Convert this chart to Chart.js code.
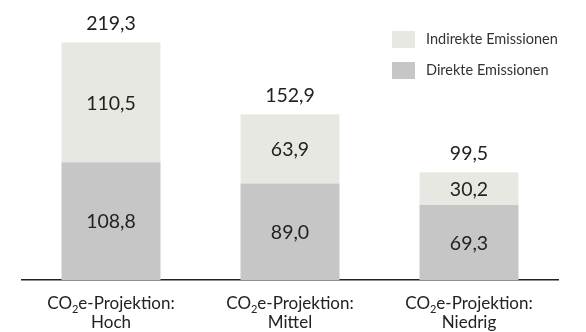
<!DOCTYPE html>
<html>
<head>
<meta charset="utf-8">
<script src="https://cdn.jsdelivr.net/npm/chart.js@4/dist/chart.umd.min.js"></script>
<style>
  html, body { margin: 0; padding: 0; background: #fff; }
  #wrap { width: 586px; height: 332px; position: relative; }
</style>
</head>
<body>
<div id="wrap"><canvas id="chart" width="586" height="332"></canvas></div>
<script>
// Category labels (two lines each; "₂" is rendered as a subscript)
const categoryLines = [
  ['CO₂e-Projektion:', 'Hoch'],
  ['CO₂e-Projektion:', 'Mittel'],
  ['CO₂e-Projektion:', 'Niedrig']
];
const categories = ['Hoch', 'Mittel', 'Niedrig'];

// Emissions per projection
const direct   = [108.8, 89.0, 69.3];
const indirect = [110.5, 63.9, 30.2];

const seriesNames = ['Direkte Emissionen', 'Indirekte Emissionen'];
const seriesColors = ['#c6c6c6', '#e8e8e3'];

const FONT = 'Lato, "Open Sans", sans-serif';
const TEXT = '#222222';

const fmt = v => v.toFixed(1).replace('.', ',');

// Draws value labels inside segments, totals above stacks, legend and category labels
const annotations = {
  id: 'annotations',
  afterDatasetsDraw(chart) {
    const ctx = chart.ctx;
    const xScale = chart.scales.x;
    ctx.save();
    ctx.fillStyle = TEXT;
    ctx.textAlign = 'center';
    ctx.textBaseline = 'middle';
    ctx.font = '19.5px ' + FONT;

    // segment values
    chart.data.datasets.forEach((ds, di) => {
      const meta = chart.getDatasetMeta(di);
      meta.data.forEach((el, i) => {
        const mid = (el.y + el.base) / 2;
        ctx.fillText(fmt(ds.data[i]), el.x, mid + 1);
      });
    });

    // totals
    const topMeta = chart.getDatasetMeta(chart.data.datasets.length - 1);
    topMeta.data.forEach((el, i) => {
      const total = direct[i] + indirect[i];
      ctx.textBaseline = 'alphabetic';
      ctx.fillText(fmt(total), el.x, el.y - 12);
    });

    // legend (indirect on top, direct below)
    const legendItems = [
      { name: seriesNames[1], color: seriesColors[1] },
      { name: seriesNames[0], color: seriesColors[0] }
    ];
    ctx.textAlign = 'left';
    ctx.textBaseline = 'middle';
    ctx.font = '14.5px ' + FONT;
    legendItems.forEach((it, k) => {
      const y = 31 + k * 31;
      ctx.fillStyle = it.color;
      ctx.fillRect(392, y, 23, 17);
      ctx.fillStyle = '#333333';
      ctx.fillText(it.name, 426, y + 8.5);
    });

    // category labels with subscript
    ctx.fillStyle = TEXT;
    ctx.textBaseline = 'alphabetic';
    const mainFont = '17px ' + FONT;
    const subFont = '11px ' + FONT;
    categoryLines.forEach((lines, i) => {
      const cx = xScale.getPixelForValue(i);
      lines.forEach((line, li) => {
        const baseY = 308.5 + li * 19.5;
        const parts = line.split('₂');
        let widths = [];
        let total = 0;
        parts.forEach((p, pi) => {
          ctx.font = mainFont;
          const w = ctx.measureText(p).width;
          widths.push(w);
          total += w;
          if (pi < parts.length - 1) {
            ctx.font = subFont;
            total += ctx.measureText('2').width;
          }
        });
        let x = cx - total / 2;
        ctx.textAlign = 'left';
        parts.forEach((p, pi) => {
          ctx.font = mainFont;
          ctx.fillText(p, x, baseY);
          x += widths[pi];
          if (pi < parts.length - 1) {
            ctx.font = subFont;
            ctx.fillText('2', x, baseY + 4);
            x += ctx.measureText('2').width;
          }
        });
      });
    });
    ctx.restore();
  }
};

new Chart(document.getElementById('chart'), {
  type: 'bar',
  data: {
    labels: categories,
    datasets: [
      { label: seriesNames[0], data: direct, backgroundColor: seriesColors[0] },
      { label: seriesNames[1], data: indirect, backgroundColor: seriesColors[1] }
    ]
  },
  options: {
    responsive: false,
    animation: false,
    events: [],
    layout: { padding: { left: 21.5, right: 27.5, top: 20, bottom: 52 } },
    datasets: { bar: { categoryPercentage: 1, barPercentage: 0.553, borderWidth: 0 } },
    plugins: { legend: { display: false }, tooltip: { enabled: false } },
    scales: {
      x: {
        stacked: true,
        grid: { display: false, drawTicks: false },
        border: { display: true, color: '#222222', width: 1.5 },
        ticks: { display: false }
      },
      y: {
        stacked: true,
        display: false,
        min: 0,
        max: 240
      }
    }
  },
  plugins: [annotations]
});
</script>
</body>
</html>
